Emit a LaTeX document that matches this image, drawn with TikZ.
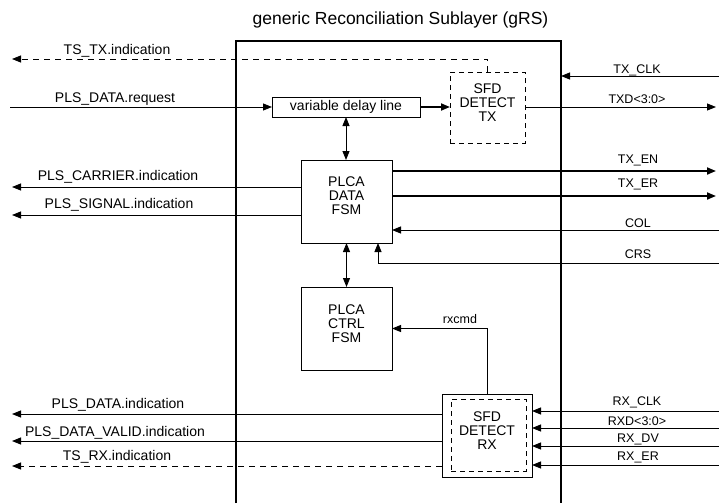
\documentclass[tikz,border=0pt]{standalone}
\usepackage{fontspec}
\setmainfont{Liberation Sans}
\usetikzlibrary{arrows.meta}
\begin{document}
\begin{tikzpicture}[x=1pt,y=-1pt,
  every node/.style={inner sep=0pt,outer sep=0pt},
  ln/.style={line width=0.9pt,draw=black},
  thk/.style={line width=1.8pt},
  arr/.style={ln,-{Triangle[length=9pt,width=7pt]}},
  arrtwo/.style={ln,{Triangle[length=9pt,width=7pt]}-{Triangle[length=9pt,width=7pt]}},
  dsh/.style={dash pattern=on 6pt off 5pt},
  blk/.style={draw,line width=0.9pt},
  dblk/.style={draw,line width=0.9pt,dash pattern=on 5pt off 4pt},
  lbl/.style={font=\fontsize{14}{14}\selectfont,anchor=base},
  rlbl/.style={font=\fontsize{12.5}{12.5}\selectfont,anchor=base},
  txt/.style={font=\fontsize{14}{14}\selectfont,align=center}
]
\useasboundingbox (0,0) rectangle (719,503);

% gRS outline
\coordinate (grsBL) at (236,503);
\coordinate (grsTL) at (236,41);
\coordinate (grsTR) at (561,41);
\coordinate (grsBR) at (561,503);
\draw[line width=1.1pt] (grsBL) -- (grsTL) -- (grsTR) -- (grsBR);
\node[font=\fontsize{17.5}{17.5}\selectfont,anchor=base] (title) at (400.5,25) {generic Reconciliation Sublayer (gRS)};

% blocks
\node[dblk,minimum width=75pt,minimum height=71pt] (sfdtx) at (487.5,107.5) {};
\node[txt] (sfdtxT) at (487.5,102.5) {SFD\\DETECT\\TX};
\node[blk,minimum width=148pt,minimum height=20pt] (delay) at (346,107) {};
\node[font=\fontsize{14}{14}\selectfont] (delayT) at (346,107) {variable delay line};
\node[blk,minimum width=91pt,minimum height=83pt] (datafsm) at (346.5,201.5) {};
\node[txt] (datafsmT) at (346.5,196) {PLCA\\DATA\\FSM};
\node[blk,minimum width=91pt,minimum height=83pt] (ctrlfsm) at (346.5,328.5) {};
\node[txt] (ctrlfsmT) at (346.5,324) {PLCA\\CTRL\\FSM};
\node[blk,minimum width=90pt,minimum height=83pt] (sfdrx) at (487,435.5) {};
\node[dblk,minimum width=75pt,minimum height=72pt] (sfdrxin) at (488.5,435) {};
\node[txt] (sfdrxT) at (487,431) {SFD\\DETECT\\RX};

% coordinates for free ends
\coordinate (tstxL) at (12,59);
\coordinate (reqL) at (10,107);
\coordinate (clkR) at (719,76);
\coordinate (txdR) at (716,107);
\coordinate (carL) at (12,187);
\coordinate (sigL) at (12,215);
\coordinate (txenR) at (716,171);
\coordinate (txerR) at (716,196);
\coordinate (colR) at (719,230);
\coordinate (crsR) at (719,263);
\coordinate (pdiL) at (12,414);
\coordinate (pdvL) at (12,441);
\coordinate (tsrxL) at (12,466);
\coordinate (rxclkR) at (719,411);
\coordinate (rxdR) at (719,428);
\coordinate (rxdvR) at (719,446);
\coordinate (rxerR) at (719,465);

% TX side
\draw[arr,dsh] (sfdtx.north) |- (tstxL);
\draw[arr] (reqL) -- (delay.west);
\draw[arr,thk] (delay.east) -- (delay.east -| sfdtx.west);
\draw[arr] (sfdtx.east |- txdR) -- (txdR);
\draw[arr] (clkR) -- (clkR -| grsTR);
\draw[arrtwo] (delay.south) -- (delay.south |- datafsm.north);
\draw[arr] (carL -| datafsm.west) -- (carL);
\draw[arr] (sigL -| datafsm.west) -- (sigL);
\draw[arr,thk] (txenR -| datafsm.east) -- (txenR);
\draw[arr,thk] (txerR -| datafsm.east) -- (txerR);
\draw[arr] (colR) -- (colR -| datafsm.east);
\draw[arr] (crsR) -| ([xshift=31.5pt]datafsm.south);
\draw[arrtwo] (datafsm.south) -- (ctrlfsm.north);

% RX side
\draw[arr] (sfdrx.north) |- (ctrlfsm.east);
\draw[arr] (pdiL -| sfdrx.west) -- (pdiL);
\draw[arr] (pdvL -| sfdrx.west) -- (pdvL);
\draw[arr,dsh] (tsrxL -| sfdrx.west) -- (tsrxL);
\draw[arr] (rxclkR) -- (rxclkR -| sfdrx.east);
\draw[arr] (rxdR) -- (rxdR -| sfdrx.east);
\draw[arr] (rxdvR) -- (rxdvR -| sfdrx.east);
\draw[arr] (rxerR) -- (rxerR -| sfdrx.east);

% labels
\node[lbl] (l1) at (117,55) {TS\_TX.indication};
\node[lbl] (l2) at (115,102) {PLS\_DATA.request};
\node[lbl] (l3) at (118,180) {PLS\_CARRIER.indication};
\node[lbl] (l4) at (119,208) {PLS\_SIGNAL.indication};
\node[lbl] (l5) at (118,408) {PLS\_DATA.indication};
\node[lbl] (l6) at (115,436) {PLS\_DATA\_VALID.indication};
\node[lbl] (l7) at (117,460) {TS\_RX.indication};
\node[rlbl] (r1) at (637,73) {TX\_CLK};
\node[rlbl] (r2) at (637,103) {TXD<3:0>};
\node[rlbl] (r3) at (638,163) {TX\_EN};
\node[rlbl] (r4) at (638,187) {TX\_ER};
\node[rlbl] (r5) at (638,227) {COL};
\node[rlbl] (r6) at (638,258) {CRS};
\node[rlbl] (r7) at (637,405) {RX\_CLK};
\node[rlbl] (r8) at (637,425) {RXD<3:0>};
\node[rlbl] (r9) at (638,442) {RX\_DV};
\node[rlbl] (r10) at (638,460) {RX\_ER};
\node[rlbl] (rx) at (460,323) {rxcmd};
\end{tikzpicture}
\end{document}
